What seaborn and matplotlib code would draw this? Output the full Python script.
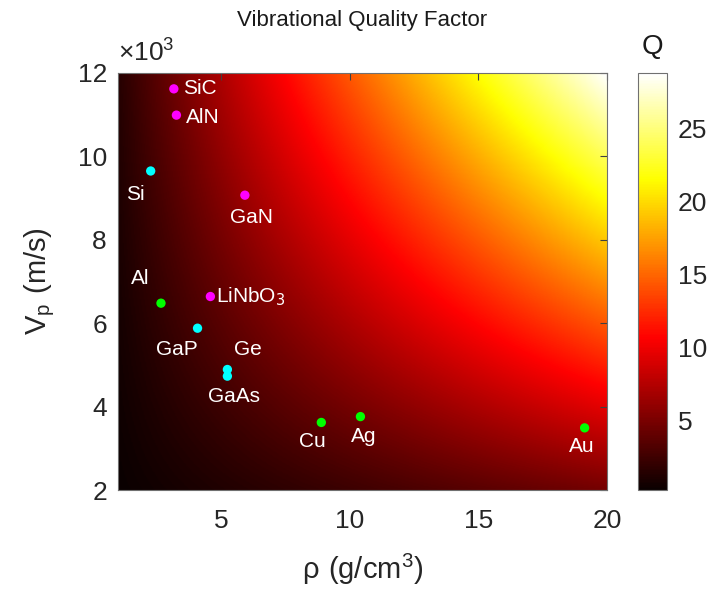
import numpy as np
import pandas as pd
import seaborn as sns
import matplotlib.pyplot as plt

# materials (density g/cm3, longitudinal velocity m/s)
materials = ['SiC', 'AlN', 'Si', 'GaN', 'Al', 'LiNbO$_3$', 'GaP', 'Ge', 'GaAs', 'Cu', 'Ag', 'Au']
rho = [3.17, 3.27, 2.27, 5.93, 2.67, 4.59, 4.09, 5.25, 5.25, 8.90, 10.42, 19.13]
vp = [11620, 10990, 9650, 9070, 6480, 6640, 5880, 4890, 4730, 3620, 3760, 3490]
group = ['mag', 'mag', 'cyan', 'mag', 'green', 'mag', 'cyan', 'cyan', 'cyan', 'green', 'green', 'green']

# label offsets (pixels) and alignment for each material
label_dx = [9, 10, -15, 7, -21, 6, -21, 20, 7, -9, 3, -3]
label_dy = [0, -2, -24, -22, 25, 0, -21, 20, -20, -19, -20, -19]
label_ha = ['left', 'left', 'center', 'center', 'center', 'left', 'center', 'center', 'center', 'center', 'center', 'center']

# background field: Q proportional to acoustic impedance rho*Vp
q_scale = 1.2e-4
rho_lim = (1, 20)
vp_lim = (2000, 12000)

df = pd.DataFrame({'material': materials, 'rho': rho, 'vp': vp, 'group': group})

sns.set_style('white')
plt.rcParams['font.family'] = ['Liberation Sans', 'DejaVu Sans']

fig = plt.figure(figsize=(7.12, 5.97), dpi=100)
ax = fig.add_axes([118 / 712, 107 / 597, 489 / 712, 417 / 597])
cax = fig.add_axes([638 / 712, 107 / 597, 29 / 712, 417 / 597])

r_grid = np.linspace(rho_lim[0], rho_lim[1], 400)
v_grid = np.linspace(vp_lim[0], vp_lim[1], 400)
R, V = np.meshgrid(r_grid, v_grid)
Q = q_scale * R * V
im = ax.imshow(Q, origin='lower', aspect='auto', cmap='hot',
               extent=[rho_lim[0], rho_lim[1], vp_lim[0], vp_lim[1]],
               vmin=Q.min(), vmax=Q.max(), interpolation='bilinear')

palette = {'mag': '#ff00ff', 'cyan': '#00ffff', 'green': '#00ff00'}
sns.scatterplot(data=df, x='rho', y='vp', hue='group', palette=palette, s=45,
                marker='o', edgecolor='none', legend=False, ax=ax, zorder=3)

for i, row in df.iterrows():
    ax.annotate(row['material'], (row['rho'], row['vp']),
                xytext=(label_dx[i], label_dy[i]), textcoords='offset pixels',
                ha=label_ha[i], va='center', color='white', fontsize=15)

ax.set_xlim(*rho_lim)
ax.set_ylim(*vp_lim)
ax.set_xticks([5, 10, 15, 20])
ax.set_yticks([2000, 4000, 6000, 8000, 10000, 12000])
ax.set_yticklabels(['2', '4', '6', '8', '10', '12'])
ax.tick_params(direction='in', length=5, width=0.8, colors='#404040',
               labelcolor='#262626', labelsize=19, top=True, right=True)
ax.tick_params(axis='x', pad=14)
ax.tick_params(axis='y', pad=8)
for s in ax.spines.values():
    s.set_color('#707070')
    s.set_linewidth(0.8)

ax.set_xlabel(r'$\mathregular{\rho\ (g/cm^3)}$', fontsize=21, color='#262626', labelpad=13)
ax.set_ylabel(r'$\mathregular{V_p\ (m/s)}$', fontsize=21, color='#262626', labelpad=15)
ax.set_title('Vibrational Quality Factor', fontsize=16, color='#1a1a1a', pad=34)
ax.text(0.0, 1.015, r'$\mathregular{\times10^3}$', transform=ax.transAxes,
        fontsize=19, color='#262626', ha='left', va='bottom')

cb = fig.colorbar(im, cax=cax)
cb.set_ticks([5, 10, 15, 20, 25])
cb.ax.tick_params(direction='in', length=4, width=0.8, colors='#404040',
                  labelcolor='#262626', labelsize=19, pad=8)
cb.outline.set_edgecolor('#707070')
cb.outline.set_linewidth(0.8)
cax.set_title('Q', fontsize=20, color='#1a1a1a', pad=14)

fig.savefig('out.png', dpi=100)
